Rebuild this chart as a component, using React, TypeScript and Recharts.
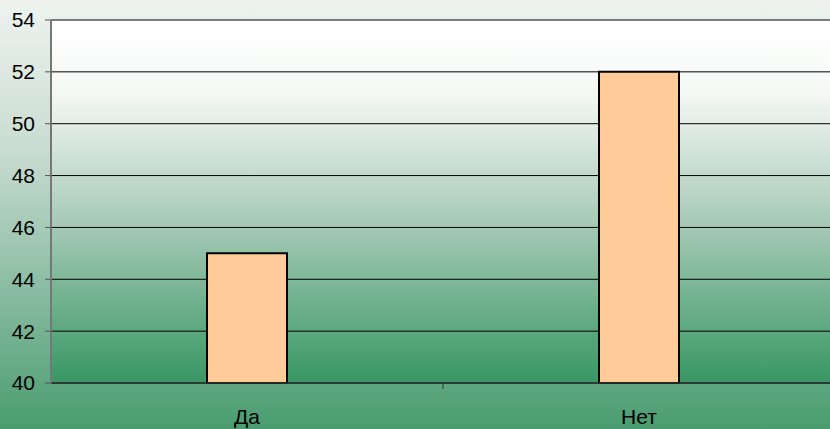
import { BarChart, Bar, XAxis, YAxis, CartesianGrid } from "recharts";

const categories = ["Да", "Нет"];
const values = [45, 52];
const yTicks = [40, 42, 44, 46, 48, 50, 52, 54];

const data = categories.map((name, i) => ({ name, value: values[i] }));

const CHART_W = 835;
const PLOT_LEFT = 51;
const HALF_BAND = (CHART_W - PLOT_LEFT) / categories.length / 2;

function CategoryTick(props: any) {
    const { x, y, payload, index } = props;
    // y arrives already shifted by tickSize + tickMargin (6 + 2)
    const axisY = y - 8;
    return (
        <g>
            {index > 0 && (
                <line x1={x - HALF_BAND} y1={axisY} x2={x - HALF_BAND} y2={axisY + 6} stroke="#333" strokeWidth={1} />
            )}
            <text
                x={x}
                y={axisY + 41}
                textAnchor="middle"
                fill="#000"
                fontSize={21}
                fontFamily="'Liberation Sans', Arial, sans-serif"
            >
                {payload.value}
            </text>
        </g>
    );
}

export default function App() {
    return (
        <div
            style={{
                width: 830,
                height: 429,
                overflow: "hidden",
                background: "linear-gradient(to bottom, #eef3f0 0%, #c9dcd1 35%, #4a9c70 100%)",
            }}
        >
            <style>{"body{margin:0}"}</style>
            <BarChart
                width={CHART_W}
                height={429}
                data={data}
                margin={{ top: 20, right: 0, bottom: 0, left: 0 }}
                barCategoryGap="0%"
            >
                <defs>
                    <linearGradient id="plotGrad" x1="0" y1="0" x2="0" y2="1">
                        <stop offset="0%" stopColor="#ffffff" />
                        <stop offset="20%" stopColor="#f4f8f5" />
                        <stop offset="55%" stopColor="#a9cbb8" />
                        <stop offset="100%" stopColor="#389764" />
                    </linearGradient>
                </defs>
                <CartesianGrid
                    vertical={false}
                    stroke="#000"
                    strokeWidth={1}
                    fill="url(#plotGrad)"
                    fillOpacity={1}
                />
                <XAxis
                    dataKey="name"
                    height={46}
                    tickLine={false}
                    axisLine={{ stroke: "#333", strokeWidth: 1.5 }}
                    tick={<CategoryTick />}
                    interval={0}
                />
                <YAxis
                    width={PLOT_LEFT}
                    domain={[40, 54]}
                    ticks={yTicks}
                    interval={0}
                    tickSize={6}
                    tickMargin={10}
                    axisLine={{ stroke: "#777", strokeWidth: 2 }}
                    tickLine={{ stroke: "#555" }}
                    tick={{ fill: "#000", fontSize: 21, fontFamily: "'Liberation Sans', Arial, sans-serif" }}
                />
                <Bar
                    dataKey="value"
                    fill="#ffcc99"
                    stroke="#000"
                    strokeWidth={2}
                    barSize={80}
                    isAnimationActive={false}
                />
            </BarChart>
        </div>
    );
}
